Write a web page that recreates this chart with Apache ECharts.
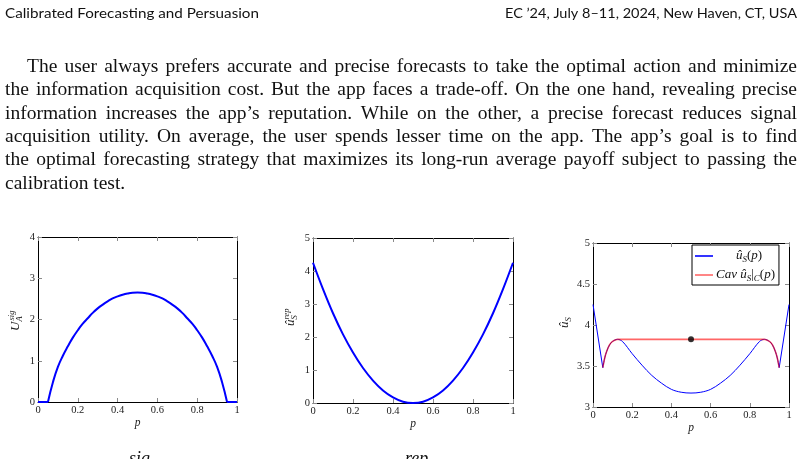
<!DOCTYPE html>
<html><head><meta charset="utf-8">
<script src="https://cdn.jsdelivr.net/npm/echarts@6/dist/echarts.min.js"></script>
<style>html,body{margin:0;padding:0;background:#fff}#c{width:802px;height:459px}</style>
</head><body><div id="c"></div>
<script>
// ---------- text content ----------
const headerLeft = "Calibrated Forecasting and Persuasion";
const headerRight = "EC \u201924, July 8\u201311, 2024, New Haven, CT, USA";
const bodyLines = [
  "The user always prefers accurate and precise forecasts to take the optimal action and minimize",
  "the information acquisition cost. But the app faces a trade-off. On the one hand, revealing precise",
  "information increases the app\u2019s reputation. While on the other, a precise forecast reduces signal",
  "acquisition utility. On average, the user spends lesser time on the app. The app\u2019s goal is to find",
  "the optimal forecasting strategy that maximizes its long-run average payoff subject to passing the",
  "calibration test."
];

// ---------- data ----------
// Chart 1: U_A^sig(p)
const pSig = [0,0.05,0.075,0.1,0.125,0.15,0.175,0.2,0.225,0.25,0.275,0.3,0.325,0.35,0.375,0.4,0.425,0.45,0.475,0.5,
              0.525,0.55,0.575,0.6,0.625,0.65,0.675,0.7,0.725,0.75,0.775,0.8,0.825,0.85,0.875,0.9,0.925,0.95,1];
const uSig = [0,0,0.48,0.85,1.12,1.35,1.56,1.74,1.90,2.03,2.16,2.27,2.36,2.44,2.51,2.56,2.60,2.63,2.65,2.655,
              2.65,2.63,2.60,2.56,2.51,2.44,2.36,2.27,2.16,2.03,1.90,1.74,1.56,1.35,1.12,0.85,0.48,0,0];
// Chart 2: u_S^rep(p)
const pRep = [0,0.05,0.1,0.15,0.2,0.25,0.3,0.35,0.4,0.45,0.5,0.55,0.6,0.65,0.7,0.75,0.8,0.85,0.9,0.95,1];
const uRep = [4.25,3.45,2.72,2.08,1.53,1.06,0.68,0.38,0.17,0.04,0,0.04,0.17,0.38,0.68,1.06,1.53,2.08,2.72,3.45,4.25];
// Chart 3: u_S(p) and its concavification
const pHat = [0,0.05,0.06,0.07,0.085,0.1,0.125,0.15,0.2,0.25,0.3,0.35,0.4,0.45,0.5,0.55,0.6,0.65,0.7,0.75,0.8,0.85,0.875,0.9,0.915,0.93,0.94,0.95,1];
const uHat = [4.25,3.48,3.60,3.68,3.76,3.80,3.825,3.80,3.65,3.51,3.385,3.29,3.215,3.18,3.17,3.18,3.215,3.29,3.385,3.51,3.65,3.80,3.825,3.80,3.76,3.68,3.60,3.48,4.25];
const pCav = [0.05,0.06,0.07,0.085,0.1,0.125,0.875,0.9,0.915,0.93,0.94,0.95];
const uCav = [3.48,3.60,3.68,3.76,3.80,3.825,3.825,3.80,3.76,3.68,3.60,3.48];
const dotP = [0.5];
const dotV = [3.825];

const xTickInterval = 0.2;

function zip(a, b, i0, i1) {
  const out = [];
  for (let i = i0; i <= i1; i++) out.push([a[i], b[i]]);
  return out;
}

// ---------- styles ----------
const serif = '"Liberation Serif", "DejaVu Serif", serif';
const tickColor = '#8a8a8a';
const labelStyle = {fontFamily: serif, fontSize: 10.5, color: '#222', margin: 3};

function xAx(gi, pos, show) {
  return {
    type: 'value', gridIndex: gi, position: pos, min: 0, max: 1, interval: xTickInterval,
    axisLine: {show: true, onZero: false, lineStyle: {color: '#000', width: 1}},
    axisTick: {show: true, inside: true, length: 4, lineStyle: {color: tickColor}},
    axisLabel: Object.assign({show: show}, labelStyle),
    splitLine: {show: false},
    name: show ? 'p' : '', nameLocation: 'middle', nameGap: 14,
    nameTextStyle: {fontFamily: serif, fontStyle: 'italic', fontSize: 11.5, color: '#222'}
  };
}
function yAx(gi, pos, show, min, max, interval) {
  return {
    type: 'value', gridIndex: gi, position: pos, min: min, max: max, interval: interval,
    axisLine: {show: true, onZero: false, lineStyle: {color: '#000', width: 1}},
    axisTick: {show: true, inside: true, length: 4, lineStyle: {color: tickColor}},
    axisLabel: Object.assign({show: show}, labelStyle),
    splitLine: {show: false}
  };
}

// ---------- body text layout (graphic) ----------
const mctx = document.createElement('canvas').getContext('2d');
function measure(font, s) { mctx.font = font; return mctx.measureText(s).width; }

const graphics = [];
// header
(function () {
  const f = '14px Lato, "Open Sans", sans-serif';
  const wl = measure(f, headerLeft), wr = measure(f, headerRight);
  graphics.push({type: 'text', x: 5, y: 13, scaleX: 254 / wl,
    style: {text: headerLeft, font: f, fill: '#111', textVerticalAlign: 'middle'}});
  graphics.push({type: 'text', x: 797, y: 13, scaleX: 292 / wr,
    style: {text: headerRight, font: f, fill: '#111', textAlign: 'right', textVerticalAlign: 'middle'}});
})();
// paragraph
(function () {
  const starts = [27, 5, 5, 5, 5, 5];
  const right = 797;
  const ys = [67, 90.3, 113.6, 137, 160.2, 183.5];
  let ratio = Infinity;
  for (let i = 0; i < 5; i++) {
    ratio = Math.min(ratio, (right - starts[i]) / measure('18px ' + serif, bodyLines[i]));
  }
  const fs = Math.min(19.5, 18 * ratio * 0.985);
  const font = fs.toFixed(2) + 'px ' + serif;
  for (let i = 0; i < bodyLines.length; i++) {
    const words = bodyLines[i].split(' ');
    const ws = words.map(w => measure(font, w));
    const tot = ws.reduce((a, b) => a + b, 0);
    const gap = i < 5 ? (right - starts[i] - tot) / (words.length - 1) : measure(font, ' ');
    let x = starts[i];
    words.forEach((w, k) => {
      graphics.push({type: 'text', x: x, y: ys[i],
        style: {text: w, font: font, fill: '#111', textVerticalAlign: 'middle'}});
      x += ws[k] + gap;
    });
  }
})();
// y-axis names (math labels, rotated)
function mathText(t, x, y, size, italic) {
  return {type: 'text', x: x, y: y,
    style: {text: t, font: (italic ? 'italic ' : '') + size + 'px ' + serif, fill: '#222', textVerticalAlign: 'middle'}};
}
graphics.push({type: 'group', x: 16, y: 320, rotation: Math.PI / 2, children: [
  mathText('U', -11, 0, 13, true), mathText('A', -1.5, 3.5, 8.5, true), mathText('sig', -0.5, -4.5, 8.5, true)
]});
graphics.push({type: 'group', x: 291, y: 318, rotation: Math.PI / 2, children: [
  mathText('\u00fb', -8, 0, 13, true), mathText('S', -1.5, 3.5, 8.5, true), mathText('rep', -1.5, -4.5, 8.5, true)
]});
graphics.push({type: 'group', x: 565, y: 322, rotation: Math.PI / 2, children: [
  mathText('\u00fb', -6, 0, 13, true), mathText('S', 0.5, 3.5, 8.5, true)
]});
// cut-off caption fragments at the bottom edge
graphics.push({type: 'text', x: 129, y: 450, style: {text: 'sig', font: 'italic 18px ' + serif, fill: '#111', textVerticalAlign: 'top'}});
graphics.push({type: 'text', x: 405, y: 450, style: {text: 'rep', font: 'italic 18px ' + serif, fill: '#111', textVerticalAlign: 'top'}});

// ---------- chart ----------
const chart = echarts.init(document.getElementById('c'), null, {renderer: 'canvas'});
const blue = '#0000ff';
const red = 'rgba(255,0,0,0.6)';
const n1 = pSig.length - 1, n3 = pHat.length - 1, nc = pCav.length - 1;

chart.setOption({
  animation: false,
  backgroundColor: '#fff',
  grid: [
    {left: 38, top: 237, width: 199, height: 165},
    {left: 313, top: 238, width: 200, height: 165},
    {left: 593, top: 243, width: 196, height: 164}
  ],
  xAxis: [xAx(0, 'bottom', true), xAx(0, 'top', false), xAx(1, 'bottom', true), xAx(1, 'top', false), xAx(2, 'bottom', true), xAx(2, 'top', false)],
  yAxis: [yAx(0, 'left', true, 0, 4, 1), yAx(0, 'right', false, 0, 4, 1),
          yAx(1, 'left', true, 0, 5, 1), yAx(1, 'right', false, 0, 5, 1),
          yAx(2, 'left', true, 3, 5, 0.5), yAx(2, 'right', false, 3, 5, 0.5)],
  legend: {
    left: 692, top: 245, orient: 'vertical', itemGap: 3, padding: [3, 4, 2, 3],
    borderColor: '#000', borderWidth: 1, backgroundColor: '#fff',
    icon: 'rect', itemWidth: 18, itemHeight: 1.6,
    data: ['uhat', 'cav'],
    formatter: function (name) {
      return name === 'uhat' ? '{i0|\u00fb}{s|S}{n|(}{i|p}{n|)}' : '{i|Cav \u00fb}{s|S}{n||}{s|C}{n|(}{i|p}{n|)}';
    },
    textStyle: {
      color: '#111', padding: [0, 0, 0, -2],
      rich: {
        i0: {fontFamily: serif, fontStyle: 'italic', fontSize: 13, lineHeight: 15, padding: [0, 0, 0, 20]},
        i: {fontFamily: serif, fontStyle: 'italic', fontSize: 13, lineHeight: 15},
        n: {fontFamily: serif, fontSize: 13, lineHeight: 15},
        s: {fontFamily: serif, fontStyle: 'italic', fontSize: 9, lineHeight: 15, padding: [7, 0, 0, 0]}
      }
    }
  },
  graphic: {elements: graphics},
  series: [
    // chart 1
    {type: 'line', xAxisIndex: 0, yAxisIndex: 0, data: zip(pSig, uSig, 0, 1), symbol: 'none', lineStyle: {color: blue, width: 2}},
    {type: 'line', xAxisIndex: 0, yAxisIndex: 0, data: zip(pSig, uSig, 1, n1 - 1), smooth: 0.5, symbol: 'none', lineStyle: {color: blue, width: 2}},
    {type: 'line', xAxisIndex: 0, yAxisIndex: 0, data: zip(pSig, uSig, n1 - 1, n1), symbol: 'none', lineStyle: {color: blue, width: 2}},
    // chart 2
    {type: 'line', xAxisIndex: 2, yAxisIndex: 2, data: zip(pRep, uRep, 0, pRep.length - 1), smooth: 0.35, symbol: 'none', lineStyle: {color: blue, width: 2}},
    // chart 3 blue
    {name: 'uhat', type: 'line', xAxisIndex: 4, yAxisIndex: 4, data: zip(pHat, uHat, 0, 1), symbol: 'none', color: blue, lineStyle: {color: blue, width: 1}},
    {name: 'uhat', type: 'line', xAxisIndex: 4, yAxisIndex: 4, data: zip(pHat, uHat, 1, n3 - 1), smooth: 0.35, symbol: 'none', color: blue, lineStyle: {color: blue, width: 1}},
    {name: 'uhat', type: 'line', xAxisIndex: 4, yAxisIndex: 4, data: zip(pHat, uHat, n3 - 1, n3), symbol: 'none', color: blue, lineStyle: {color: blue, width: 1}},
    // chart 3 red concave envelope
    {name: 'cav', type: 'line', xAxisIndex: 4, yAxisIndex: 4, data: zip(pCav, uCav, 0, 5), smooth: 0.35, symbol: 'none', color: red, lineStyle: {color: red, width: 1.6}},
    {name: 'cav', type: 'line', xAxisIndex: 4, yAxisIndex: 4, data: zip(pCav, uCav, 5, 6), symbol: 'none', color: red, lineStyle: {color: red, width: 1.6}},
    {name: 'cav', type: 'line', xAxisIndex: 4, yAxisIndex: 4, data: zip(pCav, uCav, 6, nc), smooth: 0.35, symbol: 'none', color: red, lineStyle: {color: red, width: 1.6}},
    // dot
    {type: 'scatter', xAxisIndex: 4, yAxisIndex: 4, data: zip(dotP, dotV, 0, 0), symbol: 'circle', symbolSize: 6, itemStyle: {color: '#000'}, z: 5}
  ]
});
</script></body></html>
